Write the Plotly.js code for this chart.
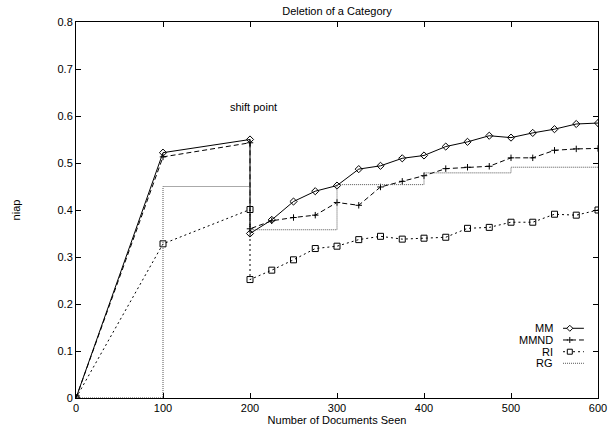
<!DOCTYPE html>
<html>
<head>
<meta charset="utf-8">
<script src="https://cdn.plot.ly/plotly-3.0.1.min.js"></script>
<style>html,body{margin:0;padding:0;background:#fff;}#chart{width:616px;height:430px;}</style>
</head>
<body>
<div id="chart"></div>
<script>
// Documents seen (200 appears twice: before and after the shift point)
const docsSeen = [0,100,200,200,225,250,275,300,325,350,375,400,425,450,475,500,525,550,575,600];
const mmValues = [0,0.522,0.550,0.350,0.379,0.418,0.440,0.452,0.487,0.494,0.510,0.516,0.535,0.545,0.558,0.554,0.564,0.572,0.583,0.585];
const mmndValues = [0,0.513,0.543,0.360,0.377,0.384,0.389,0.416,0.410,0.449,0.461,0.473,0.488,0.491,0.493,0.511,0.511,0.527,0.530,0.531];
const riValues = [0,0.328,0.401,0.252,0.272,0.294,0.318,0.323,0.337,0.344,0.338,0.340,0.342,0.361,0.363,0.374,0.374,0.391,0.389,0.400];
// RG is a step function
const rgDocs = [0,100,200,300,400,500,600];
const rgValues = [0,0.450,0.358,0.454,0.479,0.491,0.491];

const seriesNames = ["MM","MMND","RI","RG"];
const xTicks = [0,100,200,300,400,500,600];
const yTicks = [0,0.1,0.2,0.3,0.4,0.5,0.6,0.7,0.8];
const yTickLabels = ["0","0.1","0.2","0.3","0.4","0.5","0.6","0.7","0.8"];

const FONT = "Liberation Sans, Arial, Helvetica, sans-serif";
const styles = [
  {dash: "solid", color: "#000", marker: "diamond-open", size: 5.5, glyph: "M -3 0 L 0 3 L 3 0 L 0 -3 Z"},
  {dash: "5px,3px", color: "#000", marker: "cross-thin-open", size: 4.6, glyph: "M -3 0 L 3 0 M 0 -3 L 0 3"},
  {dash: "2px,3px", color: "#000", marker: "square-open", size: 6, glyph: "M -2.5 -2.5 L 2.5 -2.5 L 2.5 2.5 L -2.5 2.5 Z"},
  {dash: "1px,1px", color: "#555", marker: null, size: 0, glyph: null}
];

const traces = [
  {x: docsSeen, y: mmValues, name: seriesNames[0], mode: "lines+markers",
   line: {color: styles[0].color, width: 1, dash: styles[0].dash},
   marker: {symbol: styles[0].marker, size: styles[0].size, color: "#000", line: {width: 1, color: "#000"}}},
  {x: docsSeen, y: mmndValues, name: seriesNames[1], mode: "lines+markers",
   line: {color: styles[1].color, width: 1, dash: styles[1].dash},
   marker: {symbol: styles[1].marker, size: styles[1].size, color: "#000", line: {width: 1, color: "#000"}}},
  {x: docsSeen, y: riValues, name: seriesNames[2], mode: "lines+markers",
   line: {color: styles[2].color, width: 1, dash: styles[2].dash},
   marker: {symbol: styles[2].marker, size: styles[2].size, color: "#000", line: {width: 1, color: "#000"}}},
  {x: rgDocs, y: rgValues, name: seriesNames[3], mode: "lines",
   line: {color: styles[3].color, width: 1, dash: styles[3].dash, shape: "hv"}}
];

// gnuplot-style key: label on the left, sample on the right
const keyRowsY = [0.1854, 0.1543, 0.1231, 0.0923];
const keyTextX = 0.9176, keyLineX0 = 0.933, keyLineX1 = 0.973, keyGlyphX = 0.946;
const annotations = [
  {x: 204, y: 0.62, xref: "x", yref: "y", text: "shift point", showarrow: false,
   font: {family: FONT, size: 11, color: "#000"}}
];
const shapes = [];
seriesNames.forEach((name, i) => {
  annotations.push({x: keyTextX, y: keyRowsY[i], xref: "paper", yref: "paper", text: name,
    showarrow: false, xanchor: "right", yanchor: "middle",
    font: {family: FONT, size: 11, color: "#000"}});
  shapes.push({type: "line", xref: "paper", yref: "paper", x0: keyLineX0, x1: keyLineX1,
    y0: keyRowsY[i], y1: keyRowsY[i], line: {color: styles[i].color, width: 1, dash: styles[i].dash}});
  if (styles[i].glyph) {
    shapes.push({type: "path", xref: "paper", yref: "paper", xsizemode: "pixel", ysizemode: "pixel",
      xanchor: keyGlyphX, yanchor: keyRowsY[i], path: styles[i].glyph,
      fillcolor: "#fff", line: {color: "#000", width: 1}});
  }
});

const axisCommon = {
  showgrid: false, zeroline: false, showline: true, linecolor: "#000", linewidth: 1,
  mirror: "ticks", ticks: "inside", ticklen: 5, tickcolor: "#000", tickwidth: 1,
  tickfont: {family: FONT, size: 11, color: "#000"}
};

const layout = {
  width: 616, height: 430,
  margin: {l: 76, r: 18, t: 22, b: 32},
  paper_bgcolor: "#fff", plot_bgcolor: "#fff",
  font: {family: FONT, size: 11, color: "#000"},
  title: {text: "Deletion of a Category", font: {family: FONT, size: 11, color: "#000"},
          x: 0.547, xanchor: "center", y: 0.975, yanchor: "middle"},
  showlegend: false,
  xaxis: Object.assign({}, axisCommon, {
    range: [0, 600], tickvals: xTicks, ticktext: xTicks.map(String),
    title: {text: "Number of Documents Seen", font: {family: FONT, size: 11, color: "#000"}, standoff: 2}
  }),
  yaxis: Object.assign({}, axisCommon, {
    range: [0, 0.8], tickvals: yTicks, ticktext: yTickLabels,
    title: {text: "niap", font: {family: FONT, size: 11, color: "#000"}, standoff: 34}
  }),
  annotations: annotations,
  shapes: shapes
};

Plotly.newPlot("chart", traces, layout, {displayModeBar: false, staticPlot: true});
</script>
</body>
</html>
